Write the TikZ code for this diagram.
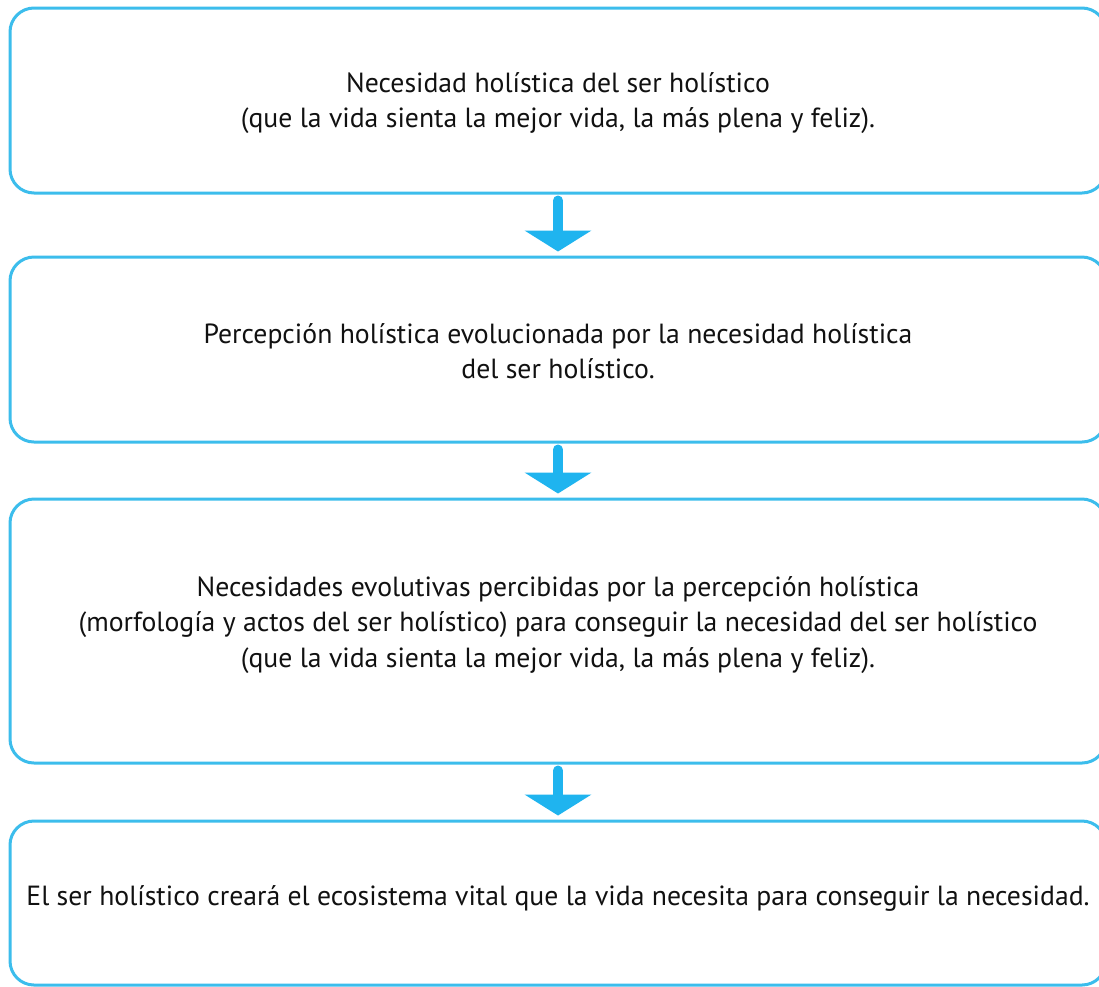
\documentclass[tikz,border=0pt]{standalone}
\usepackage{fontspec}
\setmainfont{PT Sans}
\usetikzlibrary{arrows.meta,calc}
\definecolor{boxblue}{HTML}{3CBDEC}
\definecolor{arrowblue}{HTML}{1FB4EF}
\definecolor{txtblack}{HTML}{111111}
\begin{document}
\begin{tikzpicture}[x=1pt,y=-1pt,
  box/.style={draw=boxblue, line width=3pt, rounded corners=24pt, minimum width=1096pt, inner sep=0pt},
  txt/.style={font=\fontsize{27.7}{35.5}\selectfont, text=txtblack, align=center, inner sep=0pt},
  flow/.style={draw=arrowblue, line width=10pt, line cap=round, -{Triangle[length=21pt,width=66pt]}, shorten >=4pt, shorten <=6pt}]
\useasboundingbox[fill=white] (0,0) rectangle (1099,986);
\node[box, minimum height=185pt] (b1) at (558,100.5) {};
\node[box, minimum height=185pt] (b2) at (558,349.5) {};
\node[box, minimum height=264pt] (b3) at (558,631) {};
\node[box, minimum height=164pt] (b4) at (558,903) {};
\node[txt] (t1) at (558,103) {Necesidad holística del ser holístico\\(que la vida sienta la mejor vida, la más plena y feliz).};
\node[txt] (t2) at (558,351) {Percepción holística evolucionada por la necesidad holística\\del ser holístico.};
\node[txt] (t3) at (558,625) {Necesidades evolutivas percibidas por la percepción holística\\(morfología y actos del ser holístico) para conseguir la necesidad del ser holístico\\(que la vida sienta la mejor vida, la más plena y feliz).};
\node[txt] (t4) at (558,898.5) {El ser holístico creará el ecosistema vital que la vida necesita para conseguir la necesidad.};
\draw[flow] (b1.south) -- (b2.north);
\draw[flow] (b2.south) -- (b3.north);
\draw[flow] (b3.south) -- (b4.north);
\end{tikzpicture}
\end{document}
